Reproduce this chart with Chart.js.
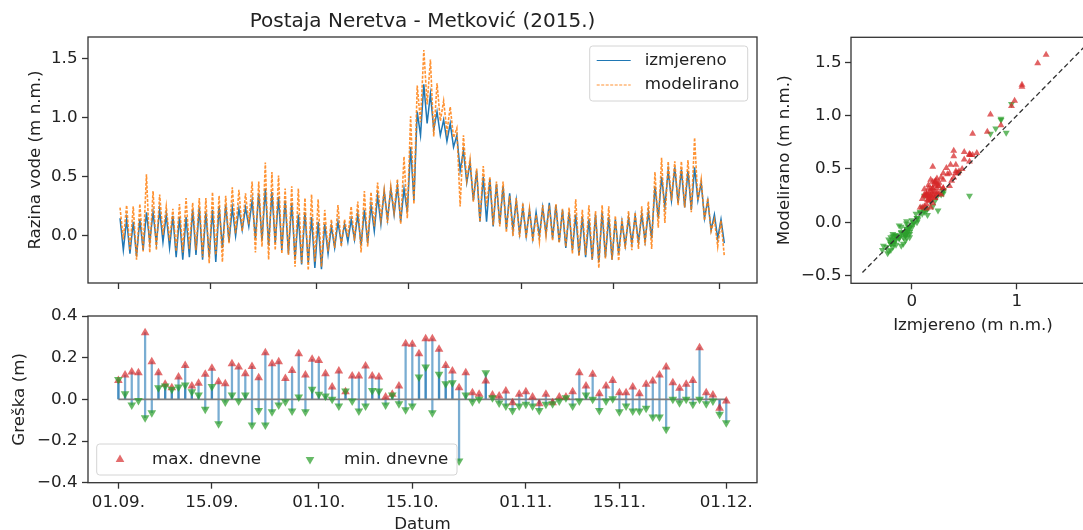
<!DOCTYPE html>
<html>
<head>
<meta charset="utf-8">
<script src="https://cdn.jsdelivr.net/npm/chart.js@4/dist/chart.umd.min.js"></script>
<style>
  html, body { margin: 0; padding: 0; background: #fff; overflow: hidden; }
  body { width: 1083px; height: 530px; position: relative; }
  canvas { position: absolute; }
  #levels { left: 0; top: 0; }
  #errors { left: 0; top: 290px; }
  #scatter { left: 770px; top: 0; }
</style>
</head>
<body>
<canvas id="levels" width="770" height="300"></canvas>
<canvas id="errors" width="770" height="250"></canvas>
<canvas id="scatter" width="340" height="340"></canvas>
<script>
// datumi na osi x (dan od 01.09.2015.)
const dayTicks = [0, 14, 30, 44, 61, 75, 91];
const dayLabels = ['01.09.', '15.09.', '01.10.', '15.10.', '01.11.', '15.11.', '01.12.'];

// dnevni maksimum / minimum razine, izmjereno (m n.m.)
const measMax = [
  0.15, 0.14, 0.12, 0.14, 0.20, 0.20, 0.22, 0.18, 0.17, 0.16,
  0.16, 0.22, 0.24, 0.20, 0.22, 0.25, 0.26, 0.24, 0.23, 0.24,
  0.30, 0.36, 0.40, 0.37, 0.33, 0.30, 0.28, 0.18, 0.20, 0.16,
  0.12, 0.10, 0.08, 0.12, 0.10, 0.14, 0.18, 0.22, 0.26, 0.34,
  0.38, 0.40, 0.42, 0.40, 0.75, 1.05, 1.28, 1.20, 1.05, 0.98,
  0.95, 0.85, 0.72, 0.62, 0.55, 0.50, 0.48, 0.44, 0.42, 0.36,
  0.30, 0.24, 0.22, 0.20, 0.24, 0.28, 0.26, 0.22, 0.20, 0.18,
  0.16, 0.14, 0.18, 0.20, 0.16, 0.14, 0.12, 0.15, 0.17, 0.18,
  0.20, 0.42, 0.50, 0.55, 0.58, 0.56, 0.55, 0.58, 0.45, 0.30,
  0.18, 0.14
];
const measMin = [
  -0.12, -0.15, -0.17, -0.12, -0.05, -0.06, -0.05, -0.10, -0.18, -0.20,
  -0.18, -0.16, -0.20, -0.18, -0.22, -0.10, -0.05, 0.00, 0.05, 0.08,
  -0.02, -0.04, -0.08, -0.06, -0.12, -0.15, -0.20, -0.24, -0.23, -0.27,
  -0.28, -0.15, -0.10, -0.06, -0.05, -0.03, -0.08, -0.06, 0.04, 0.10,
  0.14, 0.18, 0.12, 0.20, 0.30, 0.85, 0.95, 0.90, 0.85, 0.80,
  0.75, 0.55, 0.45, 0.30, 0.12, 0.12, 0.08, 0.10, 0.06, 0.05,
  0.02, 0.00, -0.02, 0.00, 0.02, -0.02, -0.05, -0.10, -0.12, -0.16,
  -0.18, -0.20, -0.22, -0.18, -0.20, -0.15, -0.08, -0.06, -0.05, -0.04,
  -0.02, 0.15, 0.25, 0.30, 0.28, 0.24, 0.22, 0.30, 0.15, 0.05,
  -0.02, -0.06
];

// dnevni maksimum / minimum razine, modelirano (m n.m.)
const modMax = [
  0.24, 0.26, 0.25, 0.27, 0.52, 0.38, 0.35, 0.25, 0.23, 0.27,
  0.32, 0.28, 0.32, 0.32, 0.37, 0.34, 0.34, 0.41, 0.39, 0.36,
  0.46, 0.46, 0.62, 0.54, 0.51, 0.40, 0.42, 0.40, 0.32, 0.35,
  0.31, 0.22, 0.14, 0.26, 0.14, 0.25, 0.29, 0.38, 0.37, 0.45,
  0.39, 0.42, 0.48, 0.67, 1.01, 1.27, 1.57, 1.49, 1.29, 1.14,
  1.09, 0.91, 0.85, 0.65, 0.57, 0.59, 0.50, 0.46, 0.46, 0.34,
  0.32, 0.28, 0.23, 0.18, 0.26, 0.26, 0.27, 0.23, 0.24, 0.31,
  0.22, 0.26, 0.21, 0.26, 0.25, 0.17, 0.15, 0.21, 0.20, 0.25,
  0.29, 0.54, 0.66, 0.63, 0.63, 0.63, 0.64, 0.83, 0.48, 0.32,
  0.14, 0.13
];
const modMin = [
  -0.03, -0.12, -0.20, -0.13, -0.14, -0.12, 0.01, -0.04, -0.13, -0.14,
  -0.11, -0.12, -0.18, -0.23, -0.16, -0.22, -0.06, 0.02, 0.04, 0.10,
  -0.14, -0.09, -0.20, -0.12, -0.15, -0.16, -0.26, -0.23, -0.29, -0.22,
  -0.26, -0.13, -0.10, -0.09, -0.01, -0.04, -0.14, -0.09, 0.08, 0.14,
  0.11, 0.20, 0.10, 0.15, 0.27, 0.96, 1.11, 0.84, 0.97, 0.88,
  0.83, 0.25, 0.47, 0.29, 0.12, 0.25, 0.09, 0.08, 0.03, 0.00,
  -0.01, -0.02, -0.05, -0.05, 0.00, -0.04, -0.06, -0.09, -0.15, -0.17,
  -0.16, -0.20, -0.27, -0.19, -0.20, -0.21, -0.11, -0.12, -0.11, -0.08,
  -0.11, 0.07, 0.11, 0.30, 0.26, 0.24, 0.20, 0.30, 0.13, 0.04,
  -0.09, -0.17
];

// greška modela kod dnevnog maksimuma / minimuma (m)
const errMax = [
  0.09, 0.117, 0.131, 0.128, 0.32, 0.18, 0.128, 0.072, 0.056, 0.107,
  0.163, 0.064, 0.077, 0.12, 0.149, 0.085, 0.075, 0.171, 0.155, 0.123,
  0.158, 0.104, 0.224, 0.171, 0.181, 0.10, 0.139, 0.219, 0.117, 0.192,
  0.187, 0.123, 0.059, 0.136, 0.037, 0.112, 0.112, 0.16, 0.112, 0.107,
  0.011, 0.024, 0.064, 0.267, 0.264, 0.219, 0.291, 0.291, 0.24, 0.163,
  0.136, 0.056, 0.128, 0.032, 0.024, 0.088, 0.021, 0.016, 0.04, -0.016,
  0.024, 0.037, 0.011, -0.021, 0.024, -0.016, 0.011, 0.011, 0.037, 0.128,
  0.064, 0.12, 0.027, 0.064, 0.091, 0.032, 0.032, 0.059, 0.027, 0.072,
  0.088, 0.117, 0.155, 0.08, 0.053, 0.072, 0.091, 0.248, 0.032, 0.021,
  -0.043, -0.008
];
const errMin = [
  0.095, 0.027, -0.027, -0.006, -0.088, -0.064, 0.056, 0.064, 0.048, 0.059,
  0.069, 0.037, 0.021, -0.048, 0.062, -0.117, -0.013, 0.021, -0.008, 0.021,
  -0.123, -0.053, -0.123, -0.059, -0.027, -0.011, -0.056, 0.011, -0.059, 0.048,
  0.024, 0.016, 0.0, -0.032, 0.04, -0.008, -0.056, -0.032, 0.043, 0.04,
  -0.027, 0.021, -0.021, -0.05, -0.032, 0.107, 0.155, -0.064, 0.12, 0.075,
  0.08, -0.296, 0.021, -0.011, 0.0, 0.128, 0.008, -0.018, -0.032, -0.053,
  -0.032, -0.024, -0.032, -0.053, -0.024, -0.021, -0.008, 0.008, -0.032, -0.008,
  0.021, 0.0, -0.053, -0.008, 0.003, -0.059, -0.032, -0.056, -0.056, -0.043,
  -0.085, -0.085, -0.144, 0.0, -0.016, 0.0, -0.024, 0.0, -0.021, -0.008,
  -0.072, -0.112
];

const levelTicks = [0, 0.5, 1, 1.5];
const errTicks = [-0.4, -0.2, 0, 0.2, 0.4];
const scatterYTicks = [-0.5, 0, 0.5, 1, 1.5];
const scatterXTicks = [0, 1];
const oneToOne = [-0.47, 1.75];

Chart.defaults.font.family = '"DejaVu Sans", sans-serif';
Chart.defaults.font.size = 16.7;
Chart.defaults.color = '#222';

const INK = '#333';
const fmt = (v, dec) => (v < -1e-9 ? '\u2212' : '') + Math.abs(v).toFixed(dec);

// daily max then min -> zig-zag tide line
function tideSeries(hi, lo) {
  const pts = [];
  hi.forEach((v, d) => {
    pts.push({ x: d + 0.25, y: v });
    pts.push({ x: d + 0.75, y: lo[d] });
  });
  return pts;
}

function tickAxis(min, max, ticks, label, pad, extra) {
  return Object.assign({
    type: 'linear', min: min, max: max, bounds: 'data', offset: false,
    border: { display: false },
    grid: { drawOnChartArea: false, drawTicks: true, tickLength: 6, tickColor: INK, tickWidth: 1.3, offset: false },
    afterBuildTicks: s => { s.ticks = ticks.map(v => ({ value: v })); },
    ticks: { padding: pad, autoSkip: false, maxRotation: 0, callback: label }
  }, extra);
}

function triangle(ctx, x, y, r, down) {
  const s = down ? -1 : 1;
  ctx.beginPath();
  ctx.moveTo(x, y - s * r);
  ctx.lineTo(x + r * 0.866, y + s * r * 0.5);
  ctx.lineTo(x - r * 0.866, y + s * r * 0.5);
  ctx.closePath();
  ctx.fill();
}

const framePlugin = {
  id: 'frame',
  afterDraw(chart) {
    const { ctx, chartArea: a } = chart;
    ctx.save();
    ctx.strokeStyle = INK;
    ctx.lineWidth = 1.3;
    ctx.strokeRect(a.left, a.top, a.right - a.left, a.bottom - a.top);
    ctx.restore();
  }
};

const boxLegend = {
  id: 'boxLegend',
  afterDraw(chart, args, o) {
    if (!o || !o.items) return;
    const { ctx, chartArea: a } = chart;
    const left = o.right != null ? a.right - o.right - o.width : a.left + o.left;
    const top = o.top != null ? a.top + o.top : a.bottom - o.bottom - o.height;
    ctx.save();
    ctx.beginPath();
    ctx.roundRect(left, top, o.width, o.height, 3);
    ctx.fillStyle = 'rgba(255,255,255,0.8)';
    ctx.fill();
    ctx.strokeStyle = '#d4d4d4';
    ctx.lineWidth = 1;
    ctx.stroke();
    o.items.forEach(it => {
      const ds = chart.data.datasets.find(d => d.label === it.label);
      const x = left + it.x, y = top + it.y;
      if (ds.pointStyle === 'triangle') {
        ctx.fillStyle = ds.backgroundColor;
        triangle(ctx, x, y, ds.pointRadius, ds.rotation === 180);
      } else {
        ctx.beginPath();
        ctx.strokeStyle = ds.borderColor;
        ctx.lineWidth = 1.2;
        ctx.setLineDash(ds.borderDash || []);
        ctx.moveTo(x, y);
        ctx.lineTo(x + 34, y);
        ctx.stroke();
        ctx.setLineDash([]);
      }
      ctx.fillStyle = '#222';
      ctx.font = '16.7px "DejaVu Sans"';
      ctx.textBaseline = 'middle';
      ctx.fillText(ds.label, left + it.textX, y);
    });
    ctx.restore();
  }
};

const base = { responsive: false, animation: false, devicePixelRatio: 1, events: [] };

// --- razina vode ---
new Chart(document.getElementById('levels'), {
  type: 'line',
  data: {
    datasets: [
      { label: 'modelirano', data: tideSeries(modMax, modMin), borderColor: 'rgba(255,127,14,0.85)',
        borderWidth: 1.6, borderDash: [3, 1.5], pointRadius: 0, tension: 0 },
      { label: 'izmjereno', data: tideSeries(measMax, measMin), borderColor: '#1f77b4',
        borderWidth: 1.5, pointRadius: 0, tension: 0 }
    ]
  },
  options: Object.assign({}, base, {
    layout: { padding: { left: 0, right: 13, top: 0, bottom: 0 } },
    plugins: {
      legend: { display: false }, tooltip: { enabled: false },
      title: { display: true, text: 'Postaja Neretva - Metković (2015.)', fullSize: false,
        font: { size: 20, weight: 'normal' }, color: '#222', padding: { top: 9.7, bottom: 3.3 } },
      boxLegend: { right: 9.3, top: 9, width: 158, height: 55, items: [
        { label: 'izmjereno', x: 7, y: 14.5, textX: 55 },
        { label: 'modelirano', x: 7, y: 39, textX: 55 }
      ] }
    },
    scales: {
      x: tickAxis(-4.6, 96.7, dayTicks, () => '', 4, { afterFit: s => { s.height = 17; } }),
      y: tickAxis(-0.397, 1.68, levelTicks, v => fmt(v, 1), 4.5, {
        title: { display: true, text: 'Razina vode (m n.m.)', padding: { top: 25.8, bottom: 0 } },
        afterFit: s => { s.width = 88; }
      })
    }
  }),
  plugins: [framePlugin, boxLegend]
});

// --- greška ---
const stem = (v, d) => ({ x: d, y: [0, v] });
const mark = (v, d) => ({ x: d, y: v });
new Chart(document.getElementById('errors'), {
  type: 'bar',
  data: {
    datasets: [
      { type: 'line', label: 'min. dnevne', data: errMin.map(mark), showLine: false,
        pointStyle: 'triangle', rotation: 180, pointRadius: 5, pointBorderWidth: 0,
        backgroundColor: 'rgba(44,160,44,0.72)', borderColor: 'rgba(44,160,44,0.72)' },
      { type: 'line', label: 'max. dnevne', data: errMax.map(mark), showLine: false,
        pointStyle: 'triangle', rotation: 0, pointRadius: 5, pointBorderWidth: 0,
        backgroundColor: 'rgba(214,39,40,0.68)', borderColor: 'rgba(214,39,40,0.68)' },
      { type: 'line', label: 'baseline', data: [{ x: 0, y: 0 }, { x: errMax.length - 1, y: 0 }],
        borderColor: '#7f7f7f', borderWidth: 1.6, pointRadius: 0 },
      { type: 'bar', label: 'stem max', data: errMax.map(stem), backgroundColor: 'rgba(31,119,180,0.6)',
        barThickness: 1.6, grouped: false, borderWidth: 0 },
      { type: 'bar', label: 'stem min', data: errMin.map(stem), backgroundColor: 'rgba(31,119,180,0.6)',
        barThickness: 1.6, grouped: false, borderWidth: 0 }
    ]
  },
  options: Object.assign({}, base, {
    layout: { padding: { left: 0, right: 13, top: 26, bottom: 0 } },
    plugins: {
      legend: { display: false }, tooltip: { enabled: false },
      boxLegend: { left: 8.7, bottom: 7.7, width: 360.3, height: 31, items: [
        { label: 'max. dnevne', x: 23.3, y: 15.5, textX: 55.3 },
        { label: 'min. dnevne', x: 213.3, y: 15.5, textX: 247.3 }
      ] }
    },
    scales: {
      x: tickAxis(-4.55, 95.6, dayTicks, (v, i) => dayLabels[i], 4, {
        title: { display: true, text: 'Datum', padding: { top: 0, bottom: 5.3 } },
        afterFit: s => { s.height = 57.3; }
      }),
      y: tickAxis(-0.4, 0.4, errTicks, v => fmt(v, 1), 4.5, {
        title: { display: true, text: 'Greška (m)', padding: { top: 10, bottom: 0 } },
        afterFit: s => { s.width = 88; }
      })
    }
  }),
  plugins: [framePlugin, boxLegend]
});

// --- modelirano vs izmjereno ---
const pair = (xs, ys) => xs.map((v, i) => ({ x: v, y: ys[i] }));
new Chart(document.getElementById('scatter'), {
  type: 'scatter',
  data: {
    datasets: [
      { type: 'line', label: '1:1', data: oneToOne.map(v => ({ x: v, y: v })), borderColor: INK,
        borderWidth: 1.3, borderDash: [5, 3], pointRadius: 0 },
      { label: 'max', data: pair(measMax, modMax), pointStyle: 'triangle', pointRadius: 4,
        pointBorderWidth: 0, backgroundColor: 'rgba(214,39,40,0.72)', borderColor: 'rgba(214,39,40,0.72)' },
      { label: 'min', data: pair(measMin, modMin), pointStyle: 'triangle', rotation: 180, pointRadius: 4,
        pointBorderWidth: 0, backgroundColor: 'rgba(44,160,44,0.72)', borderColor: 'rgba(44,160,44,0.72)' }
    ]
  },
  options: Object.assign({}, base, {
    layout: { padding: { left: 0, right: 15, top: 37.3, bottom: 0 } },
    plugins: { legend: { display: false }, tooltip: { enabled: false } },
    scales: {
      x: tickAxis(-0.579, 1.746, scatterXTicks, v => fmt(v, 0), 2.5, {
        title: { display: true, text: 'Izmjereno (m n.m.)', padding: { top: 0, bottom: 4.3 } },
        afterFit: s => { s.height = 56.7; }
      }),
      y: tickAxis(-0.571, 1.734, scatterYTicks, v => fmt(v, 1), 3.5, {
        title: { display: true, text: 'Modelirano (m n.m.)', padding: { top: 4.4, bottom: 0 } },
        afterFit: s => { s.width = 81; }
      })
    }
  }),
  plugins: [framePlugin]
});
</script>
</body>
</html>
